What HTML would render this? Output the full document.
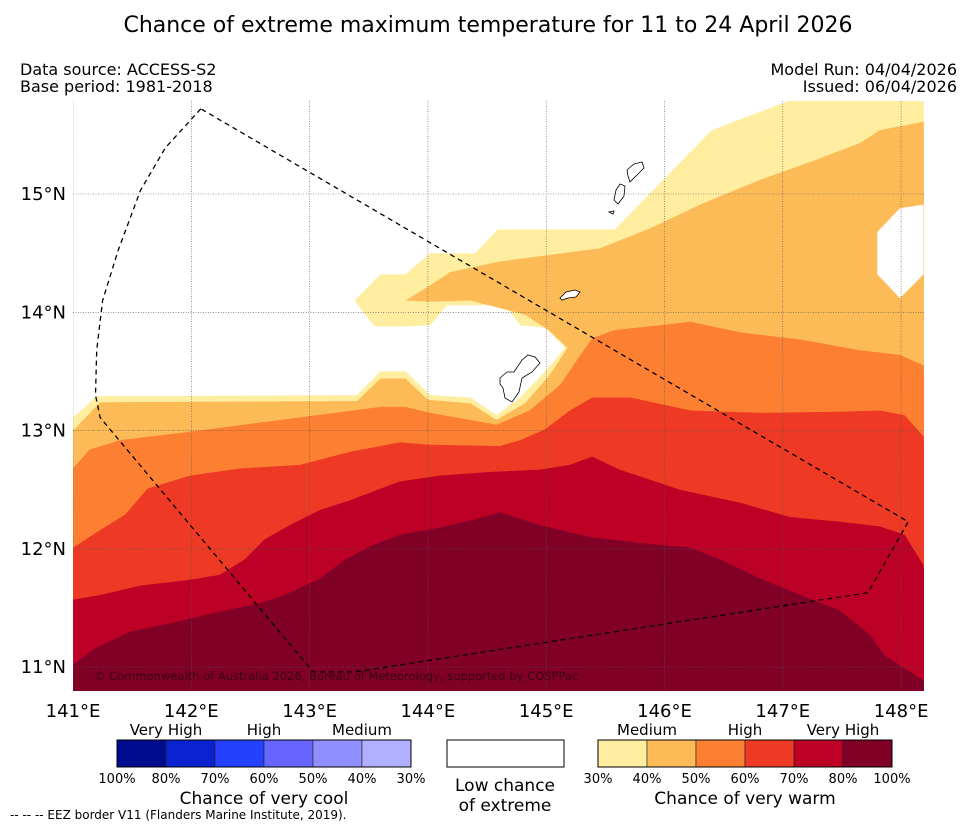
<!DOCTYPE html>
<html><head><meta charset="utf-8">
<style>
html,body{margin:0;padding:0;background:#fff;}
body{width:977px;height:827px;overflow:hidden;font-family:"DejaVu Sans","Liberation Sans",sans-serif;}
svg text{font-family:"DejaVu Sans","Liberation Sans",sans-serif;}
</style></head>
<body>
<svg id="chart" width="977" height="827" xmlns="http://www.w3.org/2000/svg">
<text x="488" y="32" font-size="22" text-anchor="middle">Chance of extreme maximum temperature for 11 to 24 April 2026</text>
<text x="20" y="75" font-size="16">Data source: ACCESS-S2</text>
<text x="20" y="92" font-size="16">Base period: 1981-2018</text>
<text x="957" y="75" font-size="16" text-anchor="end">Model Run: 04/04/2026</text>
<text x="957" y="92" font-size="16" text-anchor="end">Issued: 06/04/2026</text>
<g id="plot"></g>
<g id="legend"></g>
<text x="10" y="819" font-size="12">--  --  -- EEZ border V11 (Flanders Marine Institute, 2019).</text>
</svg>
<script>
// ----- data (lon, lat) -----
const lonTicks = [141,142,143,144,145,146,147,148];
const latTicks = [11,12,13,14,15];
const bandColors = ["#ffeda0","#fdbb58","#fd7f32","#ee3a25","#bd0026","#800026"];
const contour30 = [[141.00,13.11],[141.20,13.29],[143.40,13.30],[143.60,13.50],[143.81,13.50],[144.02,13.30],[144.36,13.28],[144.58,13.13],[144.78,13.28],[144.99,13.50],[145.16,13.70],[144.99,13.87],[144.78,13.89],[144.65,14.06],[144.16,14.06],[144.02,13.89],[143.81,13.88],[143.55,13.88],[143.38,14.10],[143.60,14.32],[143.81,14.32],[144.02,14.50],[144.40,14.50],[144.59,14.70],[145.58,14.70],[145.96,15.09],[146.40,15.54],[147.06,15.79],[148.19,15.79]];
const contour40 = [[141.00,13.00],[141.23,13.24],[143.40,13.25],[143.60,13.44],[143.81,13.44],[144.00,13.26],[144.36,13.23],[144.58,13.09],[144.82,13.23],[145.03,13.47],[145.18,13.70],[145.02,13.85],[144.82,13.98],[144.36,14.10],[144.02,14.09],[143.81,14.10],[144.02,14.23],[144.19,14.34],[144.61,14.43],[145.45,14.54],[145.88,14.71],[146.30,14.91],[146.81,15.12],[147.31,15.30],[147.65,15.43],[147.82,15.54],[148.19,15.61]];
const contour50 = [[141.00,12.68],[141.14,12.84],[141.40,12.92],[141.99,12.99],[142.75,13.09],[143.60,13.20],[143.81,13.20],[144.02,13.15],[144.36,13.09],[144.58,13.05],[144.86,13.17],[145.12,13.39],[145.29,13.64],[145.39,13.78],[145.58,13.85],[145.96,13.89],[146.22,13.92],[146.64,13.83],[147.15,13.77],[147.65,13.68],[147.99,13.64],[148.19,13.55]];
const contour60 = [[141.00,12.01],[141.23,12.16],[141.44,12.29],[141.63,12.51],[141.99,12.62],[142.41,12.68],[142.92,12.71],[143.34,12.82],[143.76,12.90],[144.02,12.88],[144.61,12.87],[144.78,12.92],[144.99,13.01],[145.20,13.17],[145.39,13.28],[145.71,13.28],[146.22,13.17],[146.81,13.15],[147.48,13.16],[147.82,13.17],[148.03,13.13],[148.19,12.95]];
const contour70 = [[141.00,11.57],[141.23,11.61],[141.57,11.69],[141.99,11.74],[142.24,11.78],[142.45,11.91],[142.62,12.08],[142.83,12.20],[143.09,12.33],[143.34,12.41],[143.60,12.51],[143.76,12.57],[144.10,12.62],[144.52,12.65],[144.95,12.67],[145.20,12.71],[145.39,12.78],[145.62,12.67],[146.13,12.50],[146.64,12.39],[147.06,12.27],[147.48,12.23],[147.82,12.19],[148.03,12.12],[148.19,11.86]];
const contour80 = [[141.00,11.02],[141.19,11.16],[141.48,11.30],[141.82,11.37],[142.24,11.47],[142.58,11.54],[142.79,11.61],[143.09,11.75],[143.30,11.91],[143.51,12.02],[143.76,12.12],[144.10,12.18],[144.36,12.24],[144.61,12.31],[144.95,12.20],[145.37,12.10],[145.79,12.05],[146.22,12.01],[146.47,11.91],[146.81,11.75],[147.15,11.61],[147.48,11.48],[147.74,11.27],[147.86,11.10],[148.03,10.99],[148.19,10.89]];
const lowChanceHole = [[147.80,14.68],[147.99,14.88],[148.19,14.91],[148.19,14.32],[147.99,14.12],[147.80,14.32]];
const eezBorder = [[142.08,15.72],[141.78,15.39],[141.57,15.03],[141.38,14.52],[141.25,14.10],[141.20,13.68],[141.19,13.30],[141.23,13.11],[143.03,10.96],[143.38,10.96],[147.72,11.63],[148.06,12.23],[142.08,15.72]];
const coolLabels = ["100%","80%","70%","60%","50%","40%","30%"];
const warmLabels = ["30%","40%","50%","60%","70%","80%","100%"];
const coolColors = ["#000c8f","#0a22d0","#2341ff","#6666ff","#8f8fff","#b0b0ff"];
const warmColors = ["#ffeda0","#fdbb58","#fd7f32","#ee3a25","#bd0026","#800026"];

// ----- axes -----
const X0=73, X1=924, Y0=101, Y1=691, PPD=118.3;
const xS = lon => X0 + (lon-141)*PPD;
const yS = lat => 194 + (15-lat)*PPD;
const NS="http://www.w3.org/2000/svg";
const plot=document.getElementById('plot');
const legend=document.getElementById('legend');
function mk(tag,attrs,parent){const e=document.createElementNS(NS,tag);for(const k in attrs)e.setAttribute(k,attrs[k]);parent.appendChild(e);return e;}
const pts = arr => arr.map(p=>xS(p[0]).toFixed(1)+","+yS(p[1]).toFixed(1)).join(" ");

const defs=mk('defs',{},plot);
const cp=mk('clipPath',{id:'clip'},defs);
mk('rect',{x:X0,y:Y0,width:X1-X0,height:Y1-Y0},cp);
const g=mk('g',{'clip-path':'url(#clip)'},plot);

const contours=[contour30,contour40,contour50,contour60,contour70,contour80];
const bandNames=['band-30-40','band-40-50','band-50-60','band-60-70','band-70-80','band-80-100'];
contours.forEach((c,i)=>{
  const full=c.concat([[148.3,10.7],[140.9,10.7]]);
  const p=mk('polygon',{points:pts(full),fill:bandColors[i]},g);
  
  
});
const hole=mk('polygon',{points:pts(lowChanceHole),fill:'#fff'},g);



// islands (decorative outlines)
const islands=[
 "500,378 507,372 514,372 522,360 528,355 535,357 540,363 532,372 522,378 519,392 512,402 505,398 503,388 500,384",
 "560,298 566,292 575,290 580,292 576,297 568,298 562,300",
 "616,190 620,184 625,186 624,196 618,204 614,200",
 "627,170 634,164 642,162 644,168 636,176 630,182 628,176",
 "609,212 614,211 613,214"
];
islands.forEach(s=>{
  const e=mk('polygon',{points:s,fill:'#fff',stroke:'#000','stroke-width':0.8},g);
  
  
});

// grid
lonTicks.forEach(l=>{
  const e=mk('line',{x1:xS(l),x2:xS(l),y1:Y0,y2:Y1,stroke:'#555','stroke-width':0.6,'stroke-dasharray':'1,1.5'},g);
  
  
  const t=mk('text',{x:xS(l),y:717,'font-size':18,'text-anchor':'middle'},plot);
  t.textContent=l+"°E";
  
  
});
latTicks.forEach(l=>{
  const e=mk('line',{x1:X0,x2:X1,y1:yS(l),y2:yS(l),stroke:'#555','stroke-width':0.6,'stroke-dasharray':'1,1.5'},g);
  
  
  const t=mk('text',{x:66,y:yS(l)+6,'font-size':18,'text-anchor':'end'},plot);
  t.textContent=l+"°N";
  
  
});

// EEZ border
const eez=mk('polyline',{points:pts(eezBorder),fill:'none',stroke:'#000','stroke-width':1.3,'stroke-dasharray':'5,4'},g);



const cr=mk('text',{x:94,y:680,'font-size':11.5,fill:'#3a0010'},plot);
cr.textContent="© Commonwealth of Australia 2026, Bureau of Meteorology, supported by COSPPac";



// legend
function colorbar(x0,colors,labels,cats,catX,title,name){
  const w=49;
  colors.forEach((c,i)=>{
    const r=mk('rect',{x:x0+i*w,y:740,width:w,height:27,fill:c,stroke:'#222','stroke-width':0.6},legend);
    
    
  });
  mk('rect',{x:x0,y:740,width:w*colors.length,height:27,fill:'none',stroke:'#000','stroke-width':1},legend);
  labels.forEach((l,i)=>{
    const t=mk('text',{x:x0+i*w,y:783,'font-size':13,'text-anchor':'middle'},legend);
    t.textContent=l;
    
    
  });
  cats.forEach((c,i)=>{
    const t=mk('text',{x:catX[i],y:735,'font-size':15,'text-anchor':'middle'},legend);
    t.textContent=c;
    
    
  });
  const t=mk('text',{x:x0+w*colors.length/2,y:804,'font-size':17,'text-anchor':'middle'},legend);
  t.textContent=title;
  
  
}
colorbar(117,coolColors,coolLabels,["Very High","High","Medium"],[166,264,362],"Chance of very cool","cool-legend");
colorbar(598,warmColors,warmLabels,["Medium","High","Very High"],[647,745,843],"Chance of very warm","warm-legend");
const wb=mk('rect',{x:447,y:740,width:117,height:27,fill:'#fff',stroke:'#000','stroke-width':1},legend);


[["Low chance",791],["of extreme",811]].forEach(a=>{
  const t=mk('text',{x:505,y:a[1],'font-size':17,'text-anchor':'middle'},legend);
  t.textContent=a[0];
  
  
});
</script>
</body></html>
